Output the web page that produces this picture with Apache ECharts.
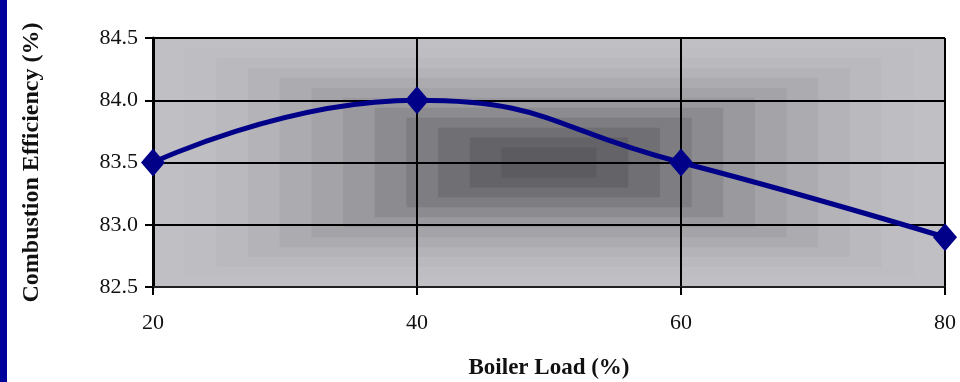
<!DOCTYPE html>
<html>
<head>
<meta charset="utf-8">
<script src="https://cdn.jsdelivr.net/npm/echarts@6/dist/echarts.min.js"></script>
<style>
  html, body { margin: 0; padding: 0; background: #ffffff; }
  #wrap { position: relative; width: 960px; height: 382px; background: #ffffff; }
  #strip { position: absolute; left: 0; top: 0; width: 7px; height: 382px; background: #00009c; }
  #chart { position: absolute; left: 0; top: 0; width: 960px; height: 382px; }
</style>
</head>
<body>
<div id="wrap"><div id="chart"></div><div id="strip"></div></div>
<script>
// ---- data ----
const boilerLoad = [20, 40, 60, 80];
const efficiency = [83.5, 84.0, 83.5, 82.9];
const xTicks = [20, 40, 60, 80];
const yTicks = [82.5, 83.0, 83.5, 84.0, 84.5];
// background shading bands (style only): outermost first, gray level of each band
const bandGray = [192, 190, 186, 180, 172, 164, 154, 140, 126, 112, 100, 92];

const FONT = '"Liberation Serif", "Times New Roman", serif';

const chart = echarts.init(document.getElementById('chart'), null, { renderer: 'canvas' });

chart.setOption({
  animation: false,
  backgroundColor: '#ffffff',
  grid: { left: 153, right: 15, top: 38, bottom: 95, outerBoundsMode: 'none', show: false },
  xAxis: {
    type: 'value',
    min: xTicks[0], max: xTicks[xTicks.length - 1], interval: 20,
    z: 3,
    name: 'Boiler Load (%)',
    nameLocation: 'middle',
    nameGap: 70,
    nameTextStyle: { fontFamily: FONT, fontSize: 23, fontWeight: 'bold', color: '#111' },
    axisLine: { show: true, onZero: false, lineStyle: { color: '#222', width: 2 } },
    axisTick: { show: true, length: 8, lineStyle: { color: '#000', width: 2 } },
    axisLabel: { margin: 25, fontFamily: FONT, fontSize: 22, color: '#111' },
    splitLine: { show: true, lineStyle: { color: '#000', width: 2 } }
  },
  yAxis: {
    type: 'value',
    min: yTicks[0], max: yTicks[yTicks.length - 1], interval: 0.5,
    z: 3,
    name: 'Combustion Efficiency (%)',
    nameLocation: 'middle',
    nameGap: 109,
    nameRotate: 90,
    nameTextStyle: { fontFamily: FONT, fontSize: 24, fontWeight: 'bold', color: '#111' },
    axisLine: { show: true, onZero: false, lineStyle: { color: '#000', width: 3 } },
    axisTick: { show: true, length: 8, lineStyle: { color: '#000', width: 2 } },
    axisLabel: { margin: 15, fontFamily: FONT, fontSize: 22, color: '#111',
                 formatter: v => v.toFixed(1) },
    splitLine: { show: true, lineStyle: { color: '#000', width: 2 } }
  },
  series: [
    {
      type: 'custom',
      z: 1,
      silent: true,
      coordinateSystem: 'cartesian2d',
      data: bandGray.map((g, i) => [50, 83.5, i]),
      renderItem: function (params, api) {
        const cs = params.coordSys;
        const i = api.value(2);
        const f = 1 - i * 0.08;
        const g = bandGray[i];
        const cx = cs.x + cs.width / 2, cy = cs.y + cs.height / 2;
        const w = cs.width * f, h = cs.height * f;
        return {
          type: 'rect',
          shape: { x: cx - w / 2, y: cy - h / 2, width: w, height: h },
          style: { fill: 'rgb(' + g + ',' + (g - 1) + ',' + (g + 3) + ')' }
        };
      }
    },
    {
      type: 'line',
      z: 5,
      data: boilerLoad.map((x, i) => [x, efficiency[i]]),
      smooth: 0.5,
      symbol: 'diamond',
      symbolSize: [24, 28],
      showSymbol: true,
      lineStyle: { color: '#000088', width: 5 },
      itemStyle: { color: '#000088' },
      clip: false
    }
  ]
});
</script>
</body>
</html>
